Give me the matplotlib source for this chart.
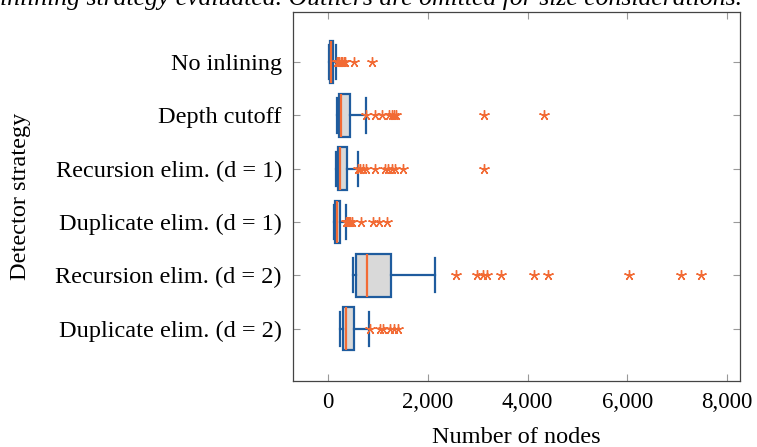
import matplotlib
matplotlib.use("Agg")
import matplotlib.pyplot as plt

categories = ["No inlining", "Depth cutoff", "Recursion elim. (d = 1)",
              "Duplicate elim. (d = 1)", "Recursion elim. (d = 2)", "Duplicate elim. (d = 2)"]
whislo = [20, 175, 155, 125, 495, 240]
q1 = [45, 220, 195, 140, 560, 295]
med = [60, 260, 245, 185, 775, 360]
q3 = [110, 440, 375, 250, 1260, 525]
whishi = [160, 755, 610, 365, 2155, 820]
fliers = [
    [180, 200, 230, 260, 290, 320, 350, 520, 890],
    [770, 940, 1080, 1230, 1280, 1320, 1360, 3130, 4330],
    [610, 640, 700, 770, 940, 1140, 1210, 1280, 1340, 1500, 3130],
    [370, 390, 410, 430, 450, 480, 660, 910, 1030, 1180],
    [2560, 2980, 3100, 3190, 3460, 4130, 4410, 6030, 7070, 7480],
    [840, 1040, 1110, 1240, 1320, 1400],
]
xticks = [0, 2000, 4000, 6000, 8000]
xticklabels = ["0", "2,000", "4,000", "6,000", "8,000"]

blue = "#1f5c9e"
orange = "#f26b35"

plt.rcParams["font.family"] = ["Liberation Serif", "DejaVu Serif"]

fig = plt.figure(figsize=(7.57, 4.47), dpi=100)
ax = fig.add_axes([293/757, 1-381/447, (740-293)/757, (381-12)/447])

stats = []
for i in range(len(categories)):
    stats.append(dict(whislo=whislo[i], q1=q1[i], med=med[i], q3=q3[i],
                      whishi=whishi[i], fliers=fliers[i], label=categories[i]))
positions = list(range(1, len(categories) + 1))
ax.bxp(stats, positions=positions, vert=False, widths=0.8, capwidths=0.64,
       patch_artist=True, showfliers=True,
       boxprops=dict(facecolor="#d9d9d9", edgecolor=blue, linewidth=1.6),
       whiskerprops=dict(color=blue, linewidth=1.6),
       capprops=dict(color=blue, linewidth=1.6),
       medianprops=dict(color=orange, linewidth=1.6),
       flierprops=dict(marker=(5, 2, 0), markerfacecolor=orange, markeredgecolor=orange,
                       markersize=7.5, markeredgewidth=1.0, linestyle="none"))

ax.set_xlim(-700, 8256)
ax.set_ylim(6.98, 0.06)
ax.set_xticks(xticks)
ax.set_xticklabels(xticklabels, fontsize=16.5)
ax.set_yticks(positions)
ax.set_yticklabels(categories, fontsize=17.5)
ax.tick_params(axis="both", direction="in", length=5, color="#999999", width=0.8,
               top=True, right=True, pad=8)
for s in ax.spines.values():
    s.set_color("#444444")
    s.set_linewidth(0.9)

ax.set_xlabel("Number of nodes", fontsize=17.5, labelpad=10)
ax.set_ylabel("Detector strategy", fontsize=17.5)
ax.yaxis.set_label_coords((31 - 293) / 447, 0.5)

fig.text(0.0, 1 - 5/447, "inlining strategy evaluated. Outliers are omitted for size considerations.",
         fontsize=18.5, style="italic", va="baseline", ha="left")

fig.savefig("out.png", dpi=100)
